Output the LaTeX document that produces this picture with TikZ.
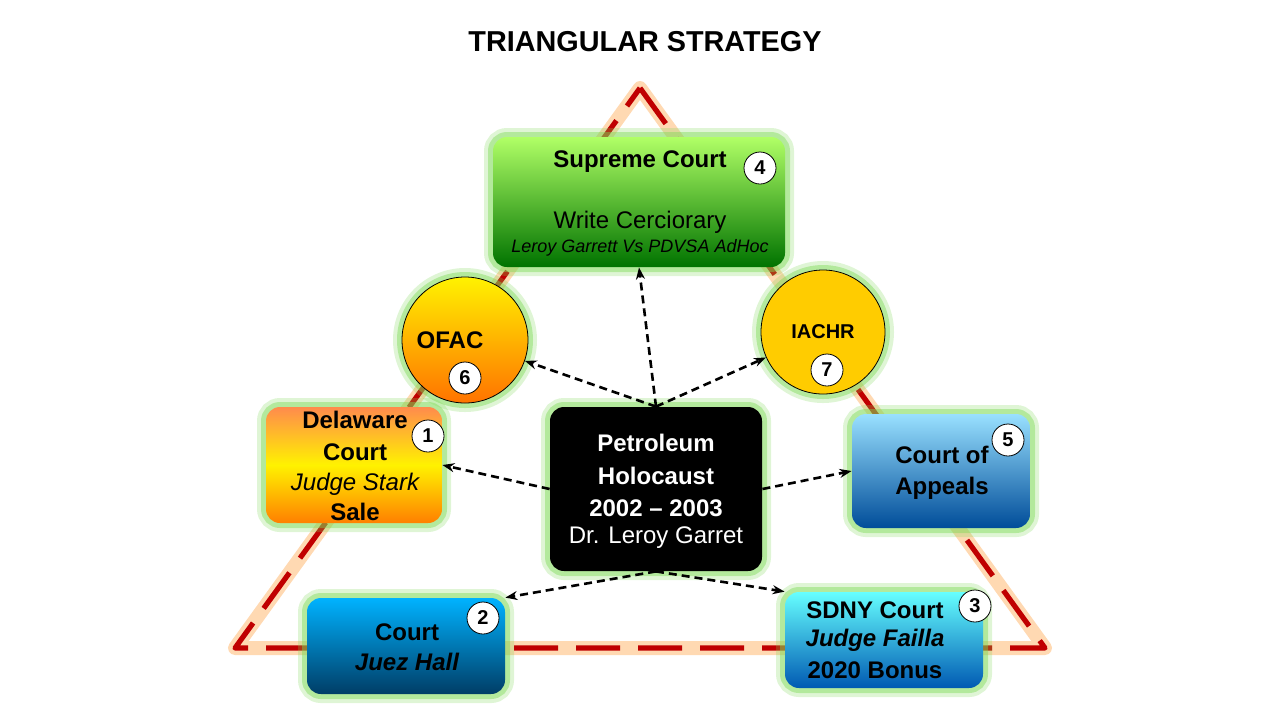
\documentclass[tikz,border=0pt]{standalone}
\usepackage{fontspec}
\setmainfont{Liberation Sans}
\usetikzlibrary{arrows.meta,shadings}
\definecolor{tri}{HTML}{C00000}
\definecolor{glw}{HTML}{7ED957}
\tikzset{
  glow/.style={preaction={draw=glw,line width=9pt,opacity=0.25},
               preaction={draw=glw,line width=5pt,opacity=0.45}},
  plain box/.style={rectangle,rounded corners=7pt,glow},
  box/.style={plain box,shading=axis,shading angle=0},
  badge/.style={circle,draw=black,fill=white,inner sep=0pt,minimum size=16pt,font=\bfseries\normalsize},
  conn/.style={-{Stealth[length=6pt]},line width=1.3pt,dash pattern=on 4pt off 2.5pt},
  lbl/.style={font=\bfseries\large}
}
\begin{document}
\begin{tikzpicture}[x=0.5pt,y=-0.5pt]
\useasboundingbox (0,0) rectangle (1280,720);
% triangle
\coordinate (ta) at (640,88);
\coordinate (tl) at (235,648);
\coordinate (tr) at (1045,648);
\draw[draw=orange,line width=7pt,opacity=0.3,line join=round] (ta) -- (tr) -- (tl) -- cycle;
\draw[tri,line width=2.6pt,dash pattern=on 22pt off 9pt,line join=round] (ta) -- (tr) -- (tl) -- cycle;
\node[font=\bfseries\Large] (title) at (645,42) {TRIANGULAR STRATEGY};
% boxes
\node[box,top color=green!35!lime!60,bottom color=green!45!black,minimum width=146pt,minimum height=65pt] (sup) at (639,202) {};
\node[lbl] at (640,162) {Supreme Court};
\node[font=\large] at (640,222) {Write Cerciorary};
\node[font=\itshape\small] at (640,248) {Leroy Garrett Vs PDVSA AdHoc};
\node[badge] (b4) at (760,168) {4};
\node[circle,draw=black,glow,top color=yellow!90!orange,bottom color=orange!90!red,minimum size=63pt] (ofac) at (465,340) {};
\node[lbl] at (450,340) {OFAC};
\node[badge] (b6) at (465,378) {6};
\node[circle,draw=black,glow,fill=orange!40!yellow,minimum size=62pt] (iachr) at (823,332) {};
\node[font=\bfseries] at (823,332) {IACHR};
\node[badge] (b7) at (827,370) {7};
\node[box,top color=red!30!orange!70,bottom color=orange,middle color=yellow!90!orange,minimum width=88pt,minimum height=58pt] (del) at (354,465) {};
\node[lbl] at (355,420) {Delaware};
\node[lbl] at (355,452) {Court};
\node[font=\itshape\large] at (355,484) {Judge Stark};
\node[lbl] at (355,512) {Sale};
\node[badge] (b1) at (428,436) {1};
\node[plain box,fill=black,minimum width=106pt,minimum height=82pt] (ctr) at (656,489) {};
\node[lbl,text=white] at (656,443) {Petroleum};
\node[lbl,text=white] at (656,476) {Holocaust};
\node[lbl,text=white] at (656,508) {2002 -- 2003};
\node[font=\large,text=white] at (656,538) {Dr. Leroy Garret};
\node[box,top color=blue!30!cyan!40,bottom color=blue!50!cyan!60!black,minimum width=89pt,minimum height=57pt] (app) at (941,471) {};
\node[lbl] at (942,455) {Court of};
\node[lbl] at (942,488) {Appeals};
\node[badge] (b5) at (1008,440) {5};
\node[box,top color=cyan!70!blue,bottom color=blue!40!cyan!40!black,minimum width=99pt,minimum height=48pt] (crt) at (406,646) {};
\node[lbl] at (407,632) {Court};
\node[font=\bfseries\itshape\large] at (407,662) {Juez Hall};
\node[badge] (b2) at (483,618) {2};
\node[box,top color=cyan!60,bottom color=cyan!50!blue!70!black,minimum width=99pt,minimum height=48pt] (sdny) at (884,640) {};
\node[lbl] at (875,610) {SDNY Court};
\node[font=\bfseries\itshape\large] at (875,640) {Judge Failla};
\node[lbl] at (875,670) {2020 Bonus};
\node[badge] (b3) at (975,606) {3};
% connectors
\draw[conn] (ctr.north) -- (sup.south);
\draw[conn] (ctr.north) -- (ofac);
\draw[conn] (ctr.north) -- (iachr);
\draw[conn] (ctr.west) -- (del.east);
\draw[conn] (ctr.east) -- (app.west);
\draw[conn] (ctr.south) -- (crt.north east);
\draw[conn] (ctr.south) -- (sdny.north west);
\end{tikzpicture}
\end{document}
